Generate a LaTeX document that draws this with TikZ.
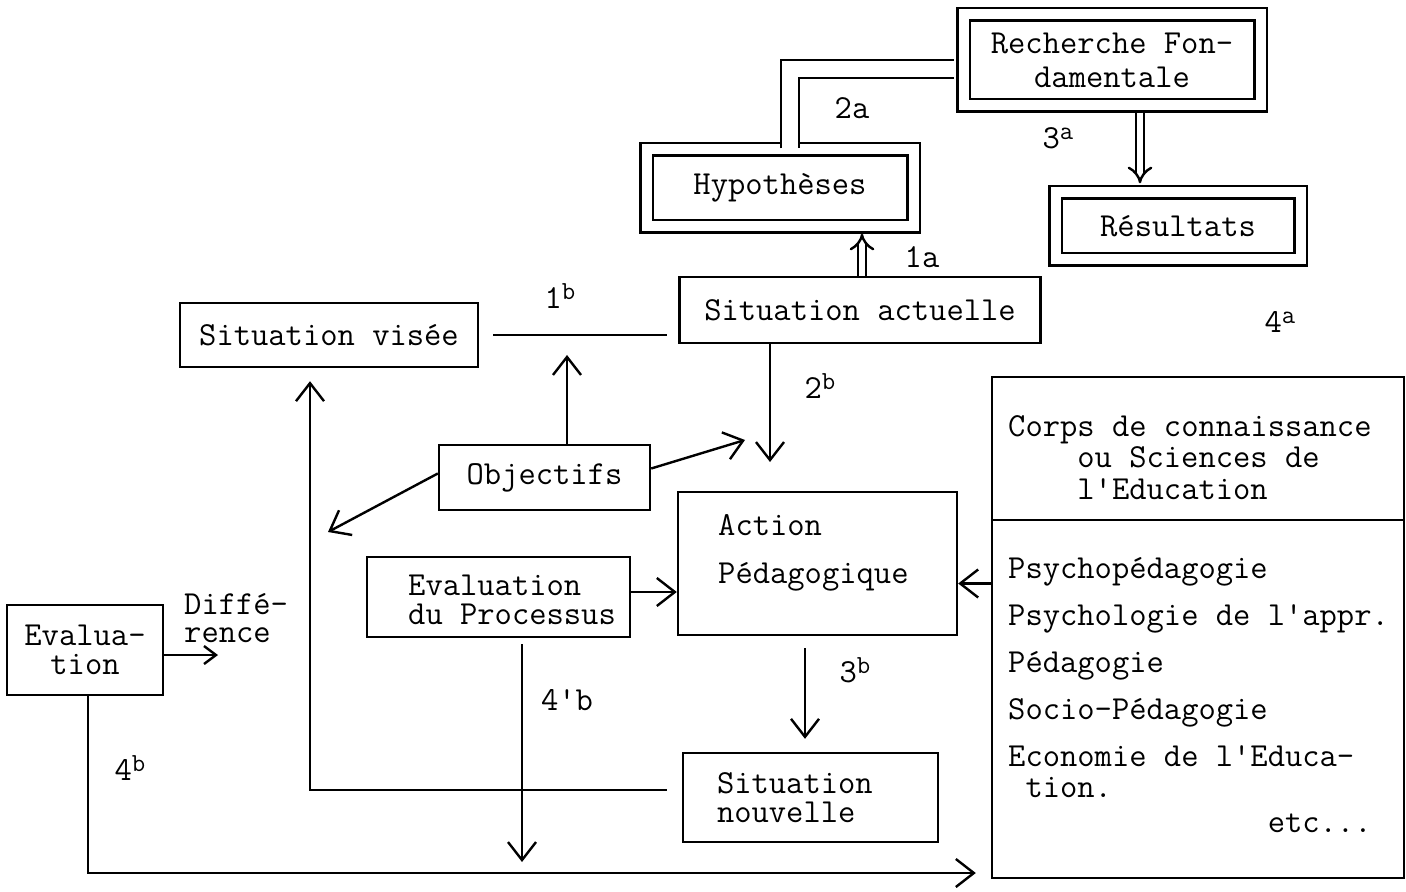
\documentclass[tikz,border=0pt]{standalone}
\usepackage{tikz}
\usetikzlibrary{arrows.meta,positioning}
\newcommand{\expo}[1]{\raisebox{.6ex}{\fontsize{13}{13}\selectfont #1}}

\begin{document}
\begin{tikzpicture}
		[x=0.5pt,y=-0.5pt,line width=1.2pt,
		every node/.style={font=\fontsize{16.8}{16}\selectfont\ttfamily},
		box/.style={draw,rectangle,inner sep=0pt},
		dbox/.style={box,double,double distance=5pt},
		arr/.style={-{Straight Barb[length=9pt,width=14pt]}},
		small arr/.style={-{Straight Barb[length=6pt,width=9pt]}},
		dline/.style={double,double distance=8pt},
		darr/.style={double,double distance=3pt,-{Implies}},
		lbl/.style={inner sep=1pt}]
		\useasboundingbox (0,0) rectangle (1406,892);
		
		\node[dbox,minimum width=148.5pt,minimum height=45.5pt,align=center,
		font=\fontsize{16.8}{17}\selectfont\ttfamily] (rf) at (1112,60) {Recherche Fon-\\damentale};
		\node[dbox,minimum width=133.5pt,minimum height=38.5pt] (hyp) at (780,188) {Hypothèses};
		\node[dbox,minimum width=122.5pt,minimum height=33.5pt] (res) at (1178,226) {Résultats};
		
		\node[box,minimum width=180.5pt,minimum height=33pt] (sa) at (860,310) {Situation actuelle};
		\node[box,minimum width=149pt,minimum height=32pt] (sv) at (329,335) {Situation visée};
		\node[box,minimum width=105.5pt,minimum height=32.5pt] (obj) at (544.5,477.5) {Objectifs};
		
		\node[box,minimum width=139.5pt,minimum height=71.5pt] (act) at (817.5,563.5) {};
		\node[align=left,anchor=west,inner sep=0pt,
		font=\fontsize{16.8}{16}\selectfont\ttfamily] (actl) at (717,553) {Action\\[8pt]Pédagogique};
		
		\node[box,minimum width=131.5pt,minimum height=40pt] (ep) at (498.5,597) {};
		\node[align=left,anchor=west,inner sep=0pt,
		font=\fontsize{16.8}{14.5}\selectfont\ttfamily] (epl) at (407,600) {Evaluation\\du Processus};
		\node[box,minimum width=78pt,minimum height=45pt,align=center,
		font=\fontsize{16.8}{14.5}\selectfont\ttfamily] (ev) at (85,650) {Evalua-\\tion};
		\node[box,text width=93.5pt,inner xsep=17pt,minimum height=44.5pt,align=left,
		font=\fontsize{16.8}{14.5}\selectfont\ttfamily] (sn) at (810.5,797.5) {Situation\\nouvelle};
		
		\node[box,minimum width=206pt,minimum height=250.5pt] (corps) at (1198,627.5) {};
		\node[align=left,anchor=west,inner sep=0pt,
		font=\fontsize{16.8}{15.75}\selectfont\ttfamily] (ch) at (1007,461)
		{Corps de connaissance\\\phantom{Corp}ou Sciences de\\\phantom{Corp}l'Education};
		\node[align=left,anchor=west,inner sep=0pt,
		font=\fontsize{16.8}{15.5}\selectfont\ttfamily] (cl) at (1007,695)
		{Psychopédagogie\\[8pt]Psychologie de l'appr.\\[8pt]Pédagogie\\[8pt]Socio-Pédagogie\\[8pt]Economie de l'Educa-\\\phantom{E}tion.\\[2pt]\phantom{Economie de l'E}etc...};
		
		\node[align=left,anchor=west,inner sep=0pt,
		font=\fontsize{16.8}{14}\selectfont\ttfamily] (diff) at (183,618) {Diffé-\\rence};
		
		\node[lbl] (l2a) at (852,108) {2a};
		\node[lbl] (l3a) at (1058,138) {3\expo{a}};
		\node[lbl] (l1a) at (922,257) {1a};
		\node[lbl] (l4a) at (1280,322) {4\expo{a}};
		\node[lbl] (l1b) at (560,296) {1\expo{b}};
		\node[lbl] (l2b) at (820,386) {2\expo{b}};
		\node[lbl] (l3b) at (855,670) {3\expo{b}};
		\node[lbl] (l4pb) at (567,700) {4'b};
		\node[lbl] (l4b) at (130,768) {4\expo{b}};
		
		\coordinate (hx) at (790,69);
		\coordinate (obtip) at (567,355);
		\coordinate (satip) at (770,462);
		\coordinate (urtip) at (745,440);
		\coordinate (dltip) at (328,532);
		\coordinate (pin) at ([yshift=-10pt]act.east);
		\coordinate (ein) at ([yshift=2.5pt]ep.east);
		\coordinate (dtip) at (218,655);
		\coordinate (snout) at ([xshift=-7.5pt,yshift=3.75pt]sn.west);
		\coordinate (lx) at (310,790);
		\coordinate (ptip) at (522,862);
		\coordinate (bx) at (805,700);
		\coordinate (eb) at (88,873);
		\coordinate (ax) at (1140,150);
		\coordinate (sx) at (862,250);
		\coordinate (dv) at (1000,520);
		
		\draw[dline,shorten >=4pt] (hyp.north -| hx) -- (hx) -- (hx -| rf.west);
		\draw[darr,shorten <=3pt,shorten >=4pt] (rf.south -| ax) -- (res.north -| ax);
		\draw[darr,shorten >=3pt] (sa.north -| sx) -- (hyp.south -| sx);
		
		\draw[shorten <=7pt,shorten >=5.5pt] (sv.east) -- (sv.east -| sa.west);
		\draw[arr] (obj.north -| obtip) -- (obtip);
		\draw[arr] (sa.south -| satip) -- (satip);
		\draw[arr] ([yshift=4.5pt]obj.east) -- (urtip);
		\draw[arr] ([yshift=2pt]obj.west) -- (dltip);
		
		\draw[arr] (corps.west |- pin) -- (pin);
		\draw[arr] (ein) -- (ein -| act.west);
		\draw[small arr] (ev.east |- dtip) -- (dtip);
		\draw[arr,shorten >=6.5pt] (snout) -- (lx) -- (lx |- sv.south);
		\draw[arr,shorten <=3pt] (ep.south -| ptip) -- (ptip);
		\draw[arr,shorten <=6pt,shorten >=6.5pt] (act.south -| bx) -- (sn.north -| bx);
		\draw[arr,shorten >=7.5pt] (ev.south -| eb) -- (eb) -- (eb -| corps.west);
		\draw (corps.west |- dv) -- (corps.east |- dv);
		\end{tikzpicture}
\end{document}
